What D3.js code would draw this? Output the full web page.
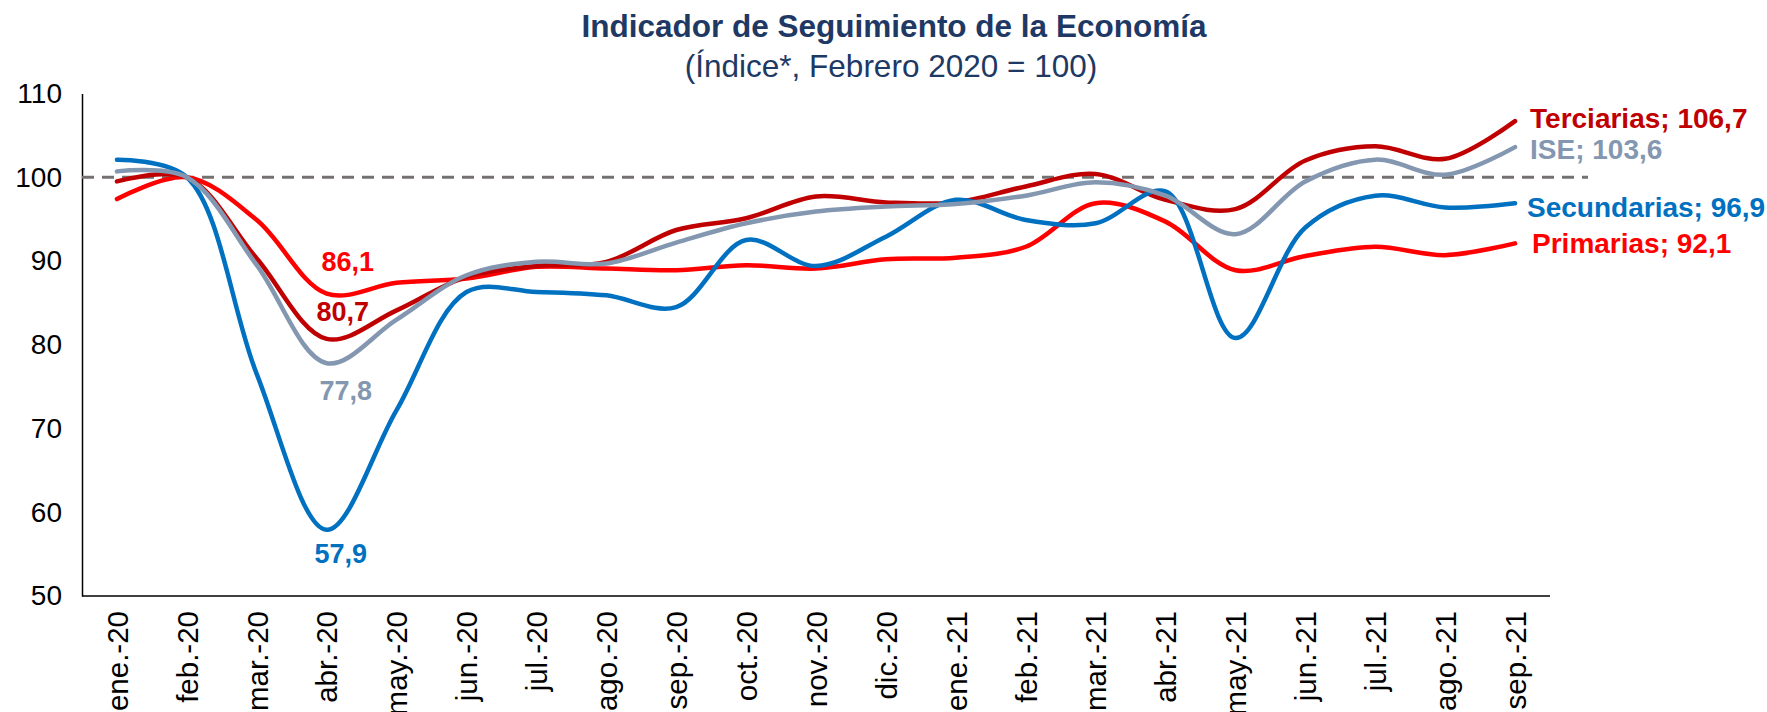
<!DOCTYPE html>
<html lang="es">
<head>
  <meta charset="UTF-8">
  <script src="https://d3js.org/d3.v7.min.js"></script>
  <style>
    body { margin: 0; padding: 0; background: #fff; overflow: hidden; }
    text { font-family: "Liberation Sans", Arial, sans-serif; }
  </style>
</head>
<body>
  <script>
    // months on the x axis
    const months = ['ene.-20', 'feb.-20', 'mar.-20', 'abr.-20', 'may.-20', 'jun.-20', 'jul.-20',
      'ago.-20', 'sep.-20', 'oct.-20', 'nov.-20', 'dic.-20', 'ene.-21', 'feb.-21', 'mar.-21',
      'abr.-21', 'may.-21', 'jun.-21', 'jul.-21', 'ago.-21', 'sep.-21'];

    // series values (index, feb 2020 = 100)
    const primarias = [97.4, 100, 94.9, 86.1, 87.4, 87.9, 89.3, 89.1, 88.9, 89.5, 89.1, 90.2,
      90.4, 91.7, 96.9, 94.7, 88.9, 90.6, 91.7, 90.7, 92.1];
    const terciarias = [99.5, 100, 90.3, 80.7, 84.1, 88.1, 89.4, 89.9, 93.7, 95.1, 97.7, 97.0,
      97.0, 98.9, 100.4, 97.3, 96.2, 102.0, 103.7, 102.2, 106.7];
    const secundarias = [102.1, 100, 76.5, 57.9, 72.2, 86.3, 86.3, 85.9, 84.5, 92.5, 89.4, 92.9,
      97.3, 94.9, 94.5, 98.3, 80.8, 94.0, 97.8, 96.4, 96.9];
    const ise = [100.7, 100, 89.5, 77.8, 83.0, 88.3, 89.9, 89.7, 92.2, 94.5, 95.9, 96.5,
      96.8, 97.8, 99.4, 97.8, 93.2, 99.5, 102.1, 100.3, 103.6];

    const yTicks = [50, 60, 70, 80, 90, 100, 110];

    const W = 1767, H = 712;
    const plotLeft = 82, plotRight = 1550, plotTop = 93.5, plotBottom = 596;

    const svg = d3.select('body').append('svg')
      .attr('width', W)
      .attr('height', H);

    const x = d3.scalePoint()
      .domain(months)
      .range([plotLeft, plotRight])
      .padding(0.5);

    const y = d3.scaleLinear()
      .domain([50, 110])
      .range([plotBottom, plotTop]);

    // title
    svg.append('text')
      .attr('x', 894).attr('y', 37)
      .attr('text-anchor', 'middle')
      .attr('font-size', 31.5)
      .attr('font-weight', 'bold')
      .attr('fill', '#203864')
      .text('Indicador de Seguimiento de la Economía');
    svg.append('text')
      .attr('x', 891).attr('y', 77)
      .attr('text-anchor', 'middle')
      .attr('font-size', 31.5)
      .attr('fill', '#203864')
      .text('(Índice*, Febrero 2020 = 100)');

    // y axis
    const yAxis = svg.append('g')
      .attr('transform', `translate(${plotLeft},0)`)
      .call(d3.axisLeft(y).tickValues(yTicks).tickSize(0).tickPadding(20));
    yAxis.select('.domain').attr('stroke', '#000').attr('stroke-width', 1.5);
    yAxis.selectAll('text')
      .attr('font-size', 28)
      .attr('fill', '#000');

    // x axis
    const xAxis = svg.append('g')
      .attr('transform', `translate(0,${plotBottom})`)
      .call(d3.axisBottom(x).tickSize(0).tickSizeOuter(0));
    xAxis.select('.domain')
      .attr('d', `M${plotLeft},0H${plotRight}`)
      .attr('stroke', '#000').attr('stroke-width', 1.5);
    xAxis.selectAll('text')
      .attr('font-size', 29.5)
      .attr('fill', '#000')
      .attr('text-anchor', 'end')
      .attr('transform', 'rotate(-90)')
      .attr('x', -15)
      .attr('y', 0)
      .attr('dy', '0.35em');

    // reference line at 100
    svg.append('line')
      .attr('x1', plotLeft).attr('x2', 1588)
      .attr('y1', y(100)).attr('y2', y(100))
      .attr('stroke', '#767171')
      .attr('stroke-width', 3)
      .attr('stroke-dasharray', '12,8');

    const series = [
      { name: 'Primarias', values: primarias, color: '#FF0000' },
      { name: 'Terciarias', values: terciarias, color: '#C00000' },
      { name: 'Secundarias', values: secundarias, color: '#0070C0' },
      { name: 'ISE', values: ise, color: '#8497B0' }
    ];

    const line = d3.line()
      .x((d, i) => x(months[i]))
      .y(d => y(d))
      .curve(d3.curveCatmullRom.alpha(0.5));

    svg.append('g')
      .selectAll('path')
      .data(series)
      .enter().append('path')
      .attr('d', d => line(d.values))
      .attr('fill', 'none')
      .attr('stroke', d => d.color)
      .attr('stroke-width', 4.5)
      .attr('stroke-linecap', 'round');

    const fmt = v => d3.format('.1f')(v).replace('.', ',');

    // labels at the April 2020 trough
    const abr = months.indexOf('abr.-20');
    const troughLabels = [
      { values: primarias, color: '#FF0000', dx: 21, dy: -23 },
      { values: terciarias, color: '#C00000', dx: 16, dy: -18 },
      { values: ise, color: '#8497B0', dx: 19, dy: 37 },
      { values: secundarias, color: '#0070C0', dx: 14, dy: 33 }
    ];
    svg.append('g')
      .selectAll('text')
      .data(troughLabels)
      .enter().append('text')
      .attr('x', d => x(months[abr]) + d.dx)
      .attr('y', d => y(d.values[abr]) + d.dy)
      .attr('text-anchor', 'middle')
      .attr('font-size', 27)
      .attr('font-weight', 'bold')
      .attr('fill', d => d.color)
      .text(d => fmt(d.values[abr]));

    // end labels
    const last = months.length - 1;
    const endLabels = [
      { name: 'Terciarias', values: terciarias, color: '#C00000', dx: 15, dy: -3 },
      { name: 'ISE', values: ise, color: '#8497B0', dx: 15, dy: 2 },
      { name: 'Secundarias', values: secundarias, color: '#0070C0', dx: 12, dy: 4 },
      { name: 'Primarias', values: primarias, color: '#FF0000', dx: 17, dy: 0 }
    ];
    svg.append('g')
      .selectAll('text')
      .data(endLabels)
      .enter().append('text')
      .attr('x', d => x(months[last]) + d.dx)
      .attr('y', d => y(d.values[last]) + d.dy)
      .attr('dy', '0.35em')
      .attr('font-size', 28)
      .attr('font-weight', 'bold')
      .attr('fill', d => d.color)
      .text(d => `${d.name}; ${fmt(d.values[last])}`);
  </script>
</body>
</html>
